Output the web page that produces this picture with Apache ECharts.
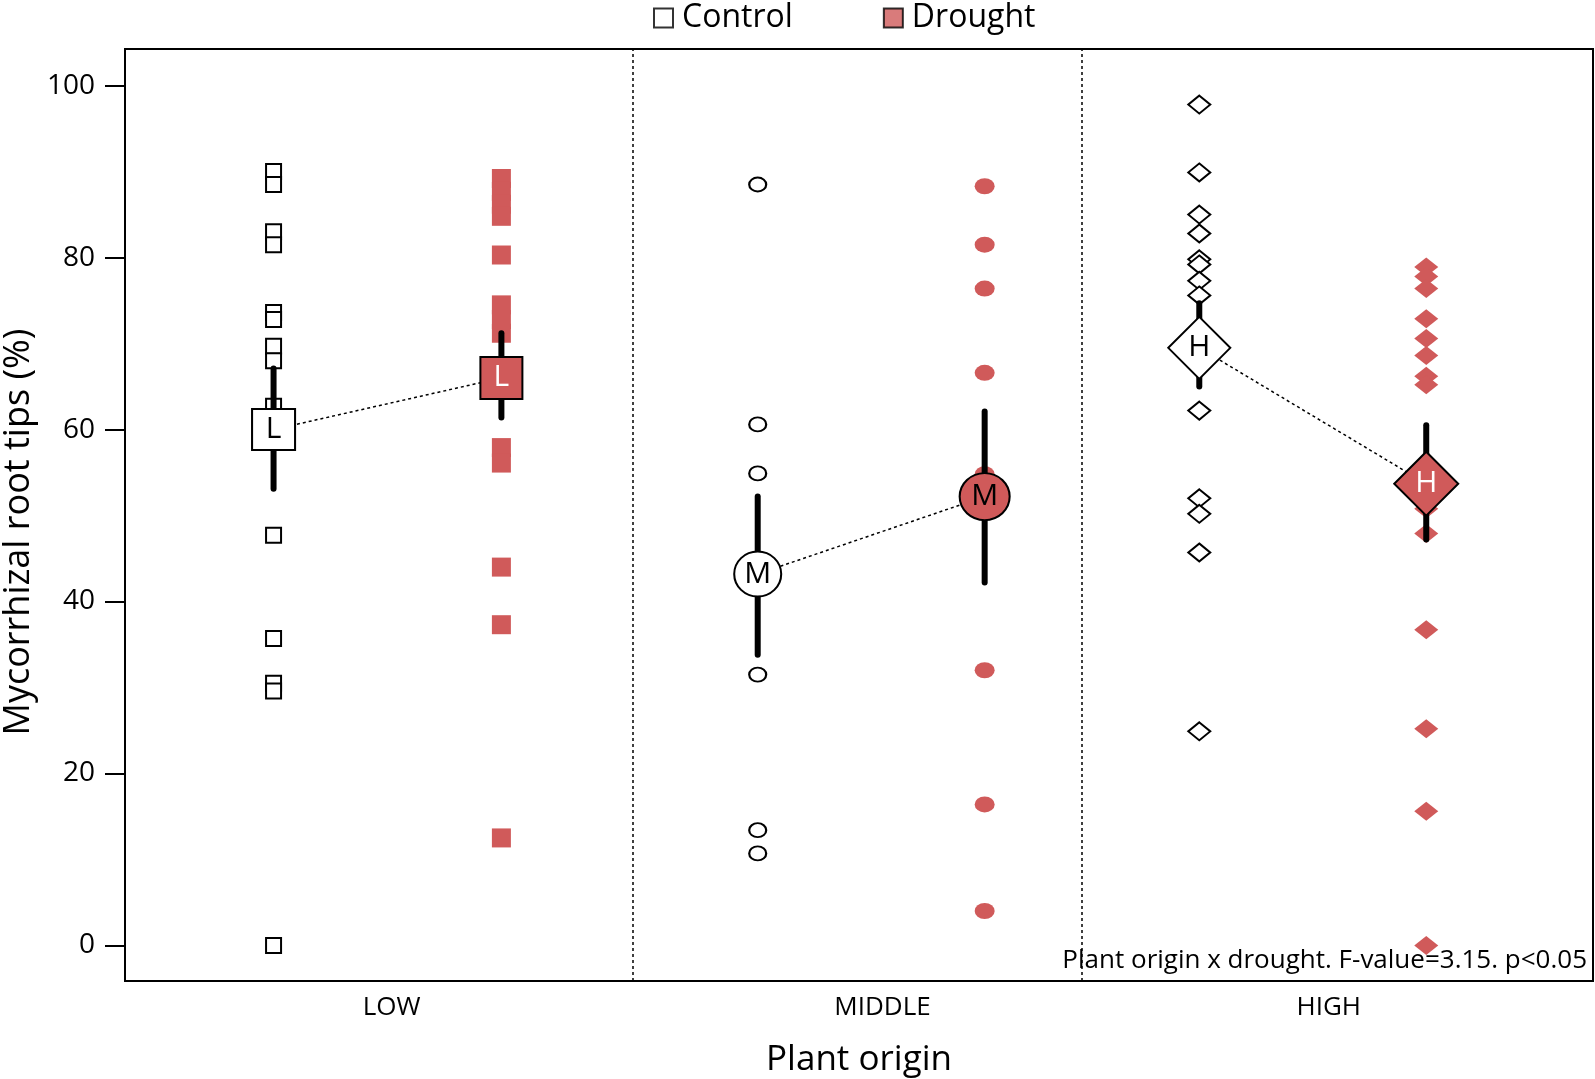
<!DOCTYPE html>
<html><head><meta charset="utf-8">
<script src="https://cdn.jsdelivr.net/npm/echarts@6/dist/echarts.min.js"></script>
<style>html,body{margin:0;padding:0;background:#fff}#c{width:1595px;height:1079px}</style>
</head><body><div id="c"></div>
<script>
// ---- data ----
const categories = ['LOW', 'MIDDLE', 'HIGH'];
const meanLetters = ['L', 'M', 'H'];
const controlLow = [90.0, 88.5, 83.0, 81.5, 73.6, 72.8, 69.7, 68.0, 62.7, 47.7, 35.7, 30.5, 29.6, 0.0];
const droughtLow = [89.2, 87.7, 86.2, 84.8, 80.3, 74.5, 72.8, 71.2, 57.9, 56.1, 44.0, 37.3, 12.5];
const controlMiddle = [88.5, 60.6, 54.9, 31.5, 13.4, 10.7];
const droughtMiddle = [88.3, 81.5, 76.4, 66.6, 54.8, 32.0, 16.4, 4.0];
const controlHigh = [97.8, 89.9, 85.0, 82.8, 79.8, 79.2, 77.3, 75.6, 62.2, 52.0, 50.2, 45.7, 24.9];
const droughtHigh = [78.9, 77.8, 76.4, 72.9, 70.6, 68.6, 66.2, 65.2, 50.8, 47.9, 36.7, 25.2, 15.6, 0.0];
const controlMeans = [60.0, 43.2, 69.5];
const droughtMeans = [66.0, 52.2, 53.7];
const controlCILow = [53.1, 33.8, 65.0];
const controlCIHigh = [67.1, 52.2, 74.7];
const droughtCILow = [61.4, 42.2, 47.2];
const droughtCIHigh = [71.2, 62.1, 60.5];
const yTicks = [0, 20, 40, 60, 80, 100];
const yTitle = 'Mycorrhizal root tips (%)';
const annotation = 'Plant origin x drought. F-value=3.15. p<0.05';

// ---- layout ----
const xControl = [10.12, 43.10, 73.18];
const xDrought = [25.64, 58.56, 88.64];
const xLabelPos = [18.16, 51.6, 82.0];
const xDividers = [34.58, 65.14];
const RED = '#d05a5a';
const FONT = 'Open Sans';
const shapes = ['rect', 'circle', 'diamond'];
const ptSizeC = [[15, 15], [17, 14], [22, 18]];
const ptSizeD = [[19, 19], [20, 16], [24, 19]];
const meanSizeC = [[43, 41], [47, 45], [62, 62]];
const meanSizeD = [[42, 42], [50, 47], [64, 64]];
const controlGroups = [controlLow, controlMiddle, controlHigh];
const droughtGroups = [droughtLow, droughtMiddle, droughtHigh];

const series = [];
series.push({name: 'Control', type: 'scatter', data: [], itemStyle: {color: '#fff', borderColor: '#000', borderWidth: 2}});
series.push({name: 'Drought', type: 'scatter', data: [], itemStyle: {color: RED, borderColor: '#000', borderWidth: 2}});

series.push({
  type: 'line', data: [], silent: true,
  markLine: {symbol: 'none', silent: true, label: {show: false},
    lineStyle: {color: '#000', type: [3, 3], width: 1.5},
    data: xDividers.map(v => ({xAxis: v}))}
});

categories.forEach((cat, i) => {
  series.push({type: 'line', z: 1, symbol: 'none', silent: true,
    lineStyle: {color: '#000', width: 1.5, type: [3, 3]},
    data: [[xControl[i], controlMeans[i]], [xDrought[i], droughtMeans[i]]]});
  series.push({type: 'scatter', z: 2, symbol: shapes[i], symbolSize: ptSizeC[i],
    itemStyle: {color: '#fff', borderColor: '#000', borderWidth: 2, opacity: 1},
    data: controlGroups[i].map(v => [xControl[i], v])});
  series.push({type: 'scatter', z: 2, symbol: shapes[i], symbolSize: ptSizeD[i],
    itemStyle: {color: RED, borderWidth: 0, opacity: 1},
    data: droughtGroups[i].map(v => [xDrought[i], v])});
  series.push({type: 'line', z: 3, symbol: 'none', silent: true,
    lineStyle: {color: '#000', width: 6, cap: 'round'},
    data: [[xControl[i], controlCILow[i]], [xControl[i], controlCIHigh[i]]]});
  series.push({type: 'line', z: 3, symbol: 'none', silent: true,
    lineStyle: {color: '#000', width: 6, cap: 'round'},
    data: [[xDrought[i], droughtCILow[i]], [xDrought[i], droughtCIHigh[i]]]});
  series.push({type: 'scatter', z: 4, symbol: shapes[i], symbolSize: meanSizeC[i],
    itemStyle: {color: '#fff', borderColor: '#000', borderWidth: 2, opacity: 1},
    label: {show: true, position: 'inside', formatter: meanLetters[i], color: '#000', fontSize: 30, fontFamily: FONT},
    data: [[xControl[i], controlMeans[i]]]});
  series.push({type: 'scatter', z: 4, symbol: shapes[i], symbolSize: meanSizeD[i],
    itemStyle: {color: RED, borderColor: '#000', borderWidth: 2, opacity: 1},
    label: {show: true, position: 'inside', formatter: meanLetters[i], color: i === 1 ? '#000' : '#fff', fontSize: 30, fontFamily: FONT},
    data: [[xDrought[i], droughtMeans[i]]]});
});

const chart = echarts.init(document.getElementById('c'), null, {renderer: 'canvas'});
chart.setOption({
  animation: false,
  backgroundColor: '#fff',
  textStyle: {fontFamily: FONT},
  legend: {
    left: 648, top: -3, itemWidth: 19, itemHeight: 19, itemGap: 90,
    textStyle: {fontSize: 32, color: '#000', fontFamily: FONT, padding: [0, 0, 0, 4]},
    data: [
      {name: 'Control', icon: 'rect', itemStyle: {color: '#fff', borderColor: '#000', borderWidth: 2}},
      {name: 'Drought', icon: 'rect', itemStyle: {color: RED, borderColor: '#000', borderWidth: 2}}
    ]
  },
  grid: {left: 125, right: 2, top: 49, bottom: 98, outerBoundsMode: 'none', containLabel: false,
    show: true, borderColor: '#000', borderWidth: 2, backgroundColor: 'transparent'},
  xAxis: {
    type: 'value', min: 0, max: 100,
    axisLine: {show: true, onZero: false, lineStyle: {color: '#000', width: 2}},
    axisTick: {show: false}, splitLine: {show: false},
    axisLabel: {customValues: xLabelPos, formatter: (v) => { const k = xLabelPos.indexOf(v); return k >= 0 ? categories[k] : ''; },
      fontSize: 26, color: '#000', margin: 14, fontFamily: FONT},
    name: 'Plant origin', nameLocation: 'middle', nameGap: 62,
    nameTextStyle: {fontSize: 35, color: '#000', fontFamily: FONT}
  },
  yAxis: {
    type: 'value', min: -4.14, max: 104.26,
    axisLine: {show: true, lineStyle: {color: '#000', width: 2}},
    axisTick: {show: true, customValues: yTicks, length: 20, lineStyle: {color: '#000', width: 2}},
    axisLabel: {customValues: yTicks, fontSize: 28, color: '#000', margin: 30, fontFamily: FONT},
    splitLine: {show: false}
  },
  graphic: [
    {type: 'text', right: 8, top: 948, z: 10,
      style: {text: annotation, fontSize: 26, fill: '#000', fontFamily: FONT}},
    {type: 'text', x: 19, y: 532, rotation: Math.PI / 2, z: 10,
      style: {text: yTitle, fontSize: 36, fill: '#000', fontFamily: FONT, align: 'center', verticalAlign: 'middle'}}
  ],
  series: series
});
</script></body></html>
